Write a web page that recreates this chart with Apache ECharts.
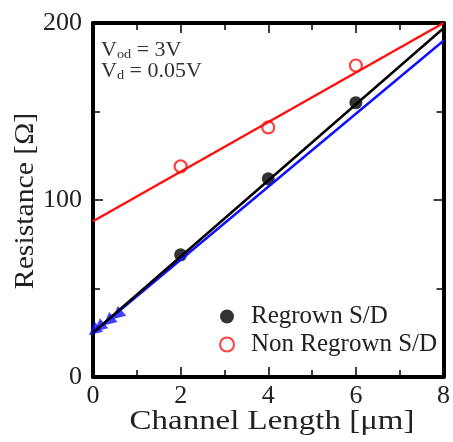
<!DOCTYPE html>
<html>
<head>
<meta charset="utf-8">
<script src="https://cdn.jsdelivr.net/npm/echarts@6/dist/echarts.min.js"></script>
<style>
  html, body { margin: 0; padding: 0; background: #fff; }
  #main { width: 453px; height: 442px; }
</style>
</head>
<body>
<div id="main"></div>
<script>
// measured points
var regrownX = [2, 4, 6];
var regrownY = [69, 112, 155];
var nonRegrownX = [2, 4, 6];
var nonRegrownY = [119, 141, 176];
var blueX = [0.02, 0.14, 0.35, 0.55];
var blueY = [26, 28, 31.5, 35];

// linear fits (end points)
var regrownFit = [[0, 25], [8, 197]];
var nonRegrownFit = [[0, 88], [8, 200]];
var blueFit = [[0, 25], [8, 190]];

var font = 'Liberation Serif';
var chart = echarts.init(document.getElementById('main'));

var axLine = { show: true, onZero: false, lineStyle: { color: '#000', width: 4 } };
var tick = { show: true, inside: true, length: 10, lineStyle: { color: '#000', width: 1.5 } };
var minor = { show: true, splitNumber: 2, length: 7, lineStyle: { color: '#000', width: 1.5 } };
var lbl = { fontFamily: font, fontSize: 26, color: '#222' };

var option = {
  animation: false,
  grid: { left: 93, top: 23, right: 6, bottom: 65 },
  xAxis: [
    {
      type: 'value', min: 0, max: 8, interval: 2,
      axisLine: axLine, axisTick: tick, minorTick: minor, splitLine: { show: false },
      axisLabel: Object.assign({ margin: 6 }, lbl)
    },
    {
      type: 'value', min: 0, max: 8, interval: 2, position: 'top',
      axisLine: axLine, axisTick: tick, minorTick: minor, splitLine: { show: false },
      axisLabel: { show: false }
    }
  ],
  yAxis: [
    {
      type: 'value', min: 0, max: 200, interval: 100,
      axisLine: axLine, axisTick: tick, minorTick: minor, splitLine: { show: false },
      axisLabel: Object.assign({ margin: 11 }, lbl)
    },
    {
      type: 'value', min: 0, max: 200, interval: 100, position: 'right',
      axisLine: axLine, axisTick: tick, minorTick: minor, splitLine: { show: false },
      axisLabel: { show: false }
    }
  ],
  legend: {
    orient: 'vertical', left: 214, top: 299, itemGap: 3,
    itemWidth: 14, itemHeight: 14,
    textStyle: { fontFamily: font, fontSize: 25, lineHeight: 23, color: '#222', padding: [0, 0, 0, 12] },
    data: ['Regrown S/D', 'Non Regrown S/D']
  },
  graphic: [
    {
      type: 'text', x: 101, y: 40, scaleX: 1.1,
      style: {
        text: 'V{s|od} = 3V\nV{s|d} = 0.05V',
        font: '20px "Liberation Serif"', fill: '#333', lineHeight: 21,
        rich: { s: { fontFamily: font, fontSize: 13, fill: '#333', padding: [9, 0, 0, 0] } }
      }
    },
    {
      type: 'text', x: 272, y: 422, scaleX: 1.22,
      style: {
        text: 'Channel Length [\u03bcm]', font: '27px "Liberation Serif"', fill: '#222',
        align: 'center', verticalAlign: 'middle'
      }
    },
    {
      type: 'text', x: 26, y: 201, rotation: Math.PI / 2, scaleX: 1.1,
      style: {
        text: 'Resistance [\u03a9]', font: '27px "Liberation Serif"', fill: '#222',
        align: 'center', verticalAlign: 'middle'
      }
    }
  ],
  series: [
    {
      type: 'line', data: nonRegrownFit, symbol: 'none', silent: true,
      lineStyle: { color: '#ff1010', width: 2.5 }
    },
    {
      type: 'line', data: blueFit, symbol: 'none', silent: true,
      lineStyle: { color: '#1010ff', width: 2.5 }
    },
    {
      type: 'line', data: regrownFit, symbol: 'none', silent: true,
      lineStyle: { color: '#000', width: 2.5 }
    },
    {
      name: 'Regrown S/D', type: 'scatter', data: regrownX.map(function (x, i) { return [x, regrownY[i]]; }),
      symbol: 'circle', symbolSize: 13, itemStyle: { color: '#000' }
    },
    {
      name: 'Non Regrown S/D', type: 'scatter', data: nonRegrownX.map(function (x, i) { return [x, nonRegrownY[i]]; }),
      symbol: 'circle', symbolSize: 12,
      itemStyle: { color: '#fff', borderColor: '#ff1010', borderWidth: 2.2 }
    },
    {
      type: 'scatter', data: blueX.map(function (x, i) { return [x, blueY[i]]; }),
      symbol: 'triangle', symbolSize: 13, symbolRotate: 130,
      itemStyle: { color: '#1010ff' }
    }
  ]
};

chart.setOption(option);
</script>
</body>
</html>
